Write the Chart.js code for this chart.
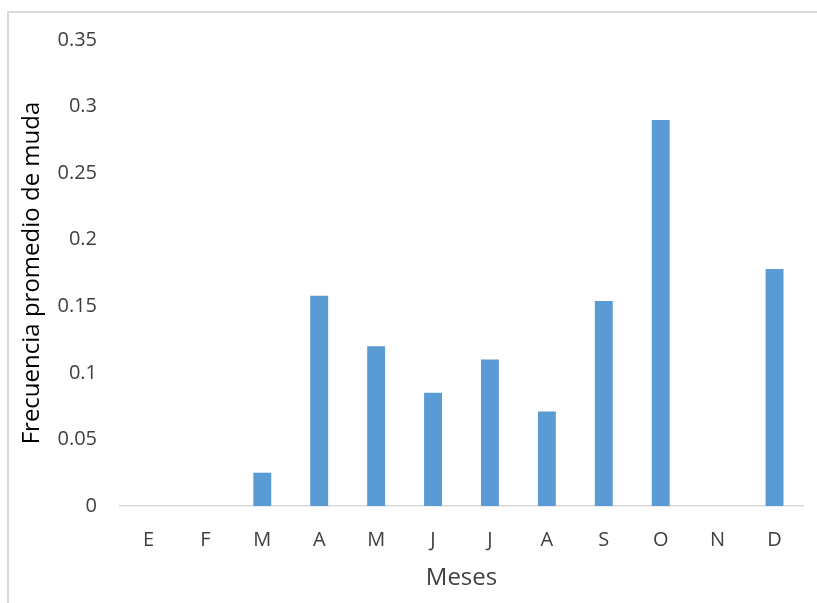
<!DOCTYPE html>
<html>
<head>
<meta charset="utf-8">
<script src="https://cdn.jsdelivr.net/npm/chart.js@4"></script>
<style>
  html, body { margin: 0; padding: 0; background: #fff; }
  #wrap { position: relative; width: 817px; height: 603px; overflow: hidden; }
  #frame { position: absolute; left: 7px; top: 11px; width: 900px; height: 700px;
           border-left: 2px solid #d9d9d9; border-top: 2px solid #d9d9d9; box-sizing: border-box; }
  canvas { position: absolute; left: 0; top: 0; }
</style>
</head>
<body>
<div id="wrap">
  <div id="frame"></div>
  <canvas id="c" width="817" height="603"></canvas>
</div>
<script>
// Meses del año (iniciales)
const months = ['E', 'F', 'M', 'A', 'M', 'J', 'J', 'A', 'S', 'O', 'N', 'D'];
// Frecuencia promedio de muda por mes
const moltFreq = [0, 0, 0.025, 0.158, 0.12, 0.085, 0.11, 0.071, 0.154, 0.29, 0, 0.178];
// Marcas del eje Y
const yTicks = [0, 0.05, 0.1, 0.15, 0.2, 0.25, 0.3, 0.35];

const font = "'Open Sans', 'Liberation Sans', sans-serif";

new Chart(document.getElementById('c'), {
  type: 'bar',
  data: {
    labels: months,
    datasets: [{
      data: moltFreq,
      backgroundColor: '#5b9bd5',
      borderWidth: 0,
      barPercentage: 0.63,
      categoryPercentage: 0.5
    }]
  },
  options: {
    responsive: false,
    animation: false,
    layout: { padding: { left: 14, right: 14, top: 40, bottom: 8 } },
    plugins: { legend: { display: false }, tooltip: { enabled: false } },
    scales: {
      x: {
        grid: { display: false, drawTicks: false },
        border: { display: true, color: '#d9d9d9', width: 1.5 },
        ticks: { color: '#404040', font: { family: font, size: 20 }, padding: 22, maxRotation: 0 },
        title: { display: true, text: 'Meses', color: '#404040', font: { family: font, size: 24 }, padding: { top: 4, bottom: 2 } },
        afterFit: s => { s.height = 89; }
      },
      y: {
        min: 0, max: 0.35,
        afterBuildTicks: s => { s.ticks = yTicks.map(v => ({ value: v })); },
        grid: { display: false, drawTicks: false },
        border: { display: false },
        ticks: { color: '#404040', font: { family: font, size: 20 }, padding: 23,
                 callback: v => String(+v.toFixed(2)) },
        title: { display: true, text: 'Frecuencia promedio de muda', color: '#000', font: { family: font, size: 24 }, padding: { top: 4, bottom: 0 } },
        afterFit: s => { s.width = 106; }
      }
    }
  }
});
</script>
</body>
</html>
